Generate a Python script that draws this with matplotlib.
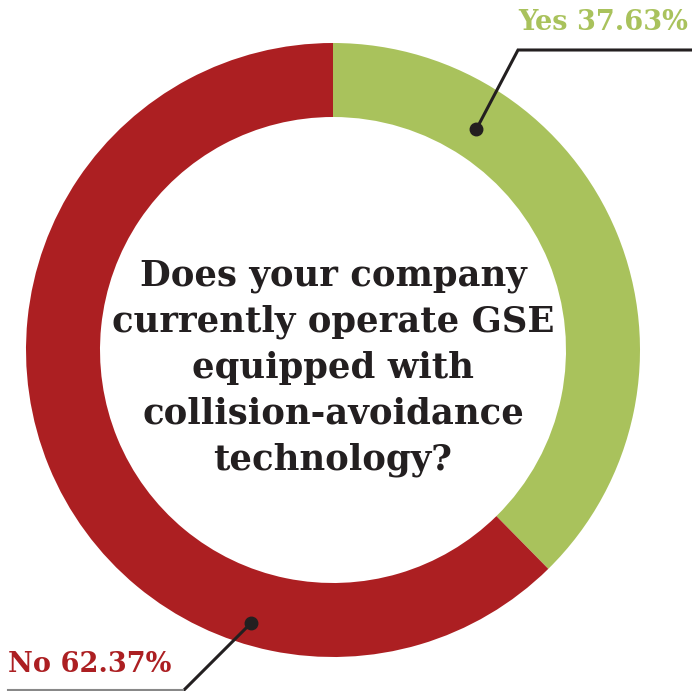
import matplotlib.pyplot as plt
import numpy as np

labels = ['Yes', 'No']
shares = [37.63, 62.37]
colors = ['#a9c25c', '#ac1f22']
question = ('Does your company\ncurrently operate GSE\nequipped with\n'
            'collision-avoidance\ntechnology?')

W, H = 692, 691
fig = plt.figure(figsize=(W / 100, H / 100), dpi=100)
ax = fig.add_axes([0, 0, 1, 1])

cx, cy, r_out, ring = 333, H - 350, 307, 74
ax.pie(shares, colors=colors, startangle=90, counterclock=False,
       radius=r_out, center=(cx, cy), frame=True,
       wedgeprops=dict(width=ring, linewidth=0))
ax.set_xlim(0, W)
ax.set_ylim(0, H)
ax.axis('off')

ax.text(cx, H - 368, question, ha='center', va='center', fontsize=25.5,
        fontweight='bold', family='DejaVu Serif', color='#231f20',
        linespacing=1.43)

def point_at(angle_cw, radius):
    # angle measured clockwise from 12 o'clock
    a = np.deg2rad(90 - angle_cw)
    return cx + radius * np.cos(a), cy + radius * np.sin(a)

# Yes leader
dx, dy = point_at(33, 263)
ax.plot([dx, 518, W], [dy, H - 50, H - 50], color='#231f20', lw=2.2,
        solid_joinstyle='miter')
ax.plot(dx, dy, 'o', color='#231f20', ms=9)
ax.text(688, H - 22, f'{labels[0]} {shares[0]:.2f}%', ha='right', va='center',
        fontsize=19.5, fontweight='bold', family='DejaVu Serif', color=colors[0])

# No leader
dx, dy = point_at(196.7, 285)
ax.plot([dx, 183], [dy, 0], color='#231f20', lw=2.2)
ax.plot([8, 183], [1, 1], color='#888888', lw=1.5)
ax.plot(dx, dy, 'o', color='#231f20', ms=9)
ax.text(8, H - 665, f'{labels[1]} {shares[1]:.2f}%', ha='left', va='center',
        fontsize=19.5, fontweight='bold', family='DejaVu Serif', color=colors[1])

fig.savefig('out.png', dpi=100, facecolor='white')
